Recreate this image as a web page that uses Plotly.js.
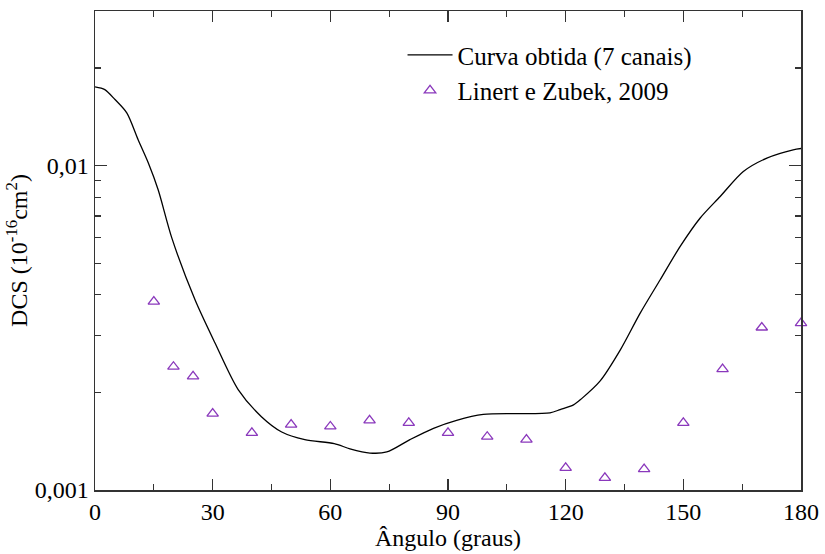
<!DOCTYPE html>
<html>
<head>
<meta charset="utf-8">
<script src="https://cdn.plot.ly/plotly-3.0.1.min.js"></script>
<style>
html,body{margin:0;padding:0;background:#fff;}
#chart{width:825px;height:554px;}
</style>
</head>
<body>
<div id="chart"></div>
<script>
// Curve (calculated, 7 channels)
const curveAngle = [0, 2.5, 5.1, 8.1, 11.0, 13.6, 16.1, 19.6, 25.5, 30.6, 36.5, 42.5, 47.6, 53.5, 61, 65, 70.1, 74.4, 80.3, 86.3, 92.2, 99, 107.5, 116, 118.6, 122, 124, 128.8, 133.9, 139, 144.1, 149.2, 154.3, 159.4, 165.3, 171.3, 178, 180];
const curveDCS   = [0.0175, 0.01717, 0.0160, 0.01455, 0.01202, 0.01019, 0.00843, 0.00598, 0.00386, 0.00284, 0.00204, 0.00168, 0.00151, 0.00143, 0.00139, 0.00134, 0.00130, 0.00131, 0.00143, 0.00155, 0.00164, 0.00171, 0.00172, 0.00173, 0.00177, 0.00183, 0.00191, 0.00217, 0.00270, 0.00351, 0.00445, 0.00564, 0.00690, 0.00804, 0.00960, 0.01056, 0.0112, 0.0113];

// Linert e Zubek, 2009 (experimental)
const expAngle = [15, 20, 25, 30, 40, 50, 60, 70, 80, 90, 100, 110, 120, 130, 140, 150, 160, 170, 180];
const expDCS   = [0.00381, 0.00240, 0.00224, 0.00172, 0.00150, 0.00159, 0.00157, 0.00164, 0.00161, 0.00150, 0.00146, 0.00143, 0.00117, 0.00109, 0.00116, 0.00161, 0.00236, 0.00317, 0.00327];

const xTicks = [0, 30, 60, 90, 120, 150, 180];
const yTickVals = [0.001, 0.01];
const yTickText = ['0,001', '0,01'];

const seriesNames = ['Curva obtida (7 canais)', 'Linert e Zubek, 2009'];

const serif = 'Liberation Serif, Times New Roman, serif';

const traces = [
  {
    x: curveAngle, y: curveDCS, type: 'scatter', mode: 'lines',
    name: seriesNames[0],
    line: {color: '#000000', width: 1.3, shape: 'spline', smoothing: 0.8}
  },
  {
    x: expAngle, y: expDCS, type: 'scatter', mode: 'markers', cliponaxis: false,
    name: seriesNames[1],
    marker: {symbol: 'triangle-up-open', size: 10, color: '#8a38bc', line: {width: 1.3, color: '#8a38bc'}}
  }
];

const layout = {
  width: 825, height: 554,
  margin: {l: 95, r: 24, t: 11, b: 64},
  paper_bgcolor: '#ffffff', plot_bgcolor: '#ffffff',
  font: {family: serif, size: 24, color: '#000'},
  showlegend: true,
  legend: {x: 0.4356, y: 0.956, xanchor: 'left', yanchor: 'top', bgcolor: 'rgba(0,0,0,0)',
           font: {family: serif, size: 25, color: '#000'}, tracegroupgap: 0, itemwidth: 45},
  xaxis: {
    range: [0, 180], tickvals: xTicks, ticks: 'inside', ticklen: 11, tickwidth: 1.3, tickcolor: '#333',
    showline: true, linecolor: '#333', linewidth: 1.5, mirror: 'allticks', showgrid: false, zeroline: false,
    tickfont: {family: serif, size: 24},
    minor: {dtick: 15, ticks: 'inside', ticklen: 6, tickwidth: 1.3, tickcolor: '#333', showgrid: false},
    title: {text: 'Ângulo (graus)', font: {family: serif, size: 24}, standoff: 1}
  },
  yaxis: {
    type: 'log', range: [-3, Math.log10(0.03)],
    tickvals: yTickVals, ticktext: yTickText,
    ticks: 'inside', ticklen: 12, tickwidth: 1.3, tickcolor: '#333',
    showline: true, linecolor: '#333', linewidth: 1.5, mirror: 'allticks', showgrid: false, zeroline: false,
    tickfont: {family: serif, size: 24},
    minor: {dtick: 'D1', ticks: 'inside', ticklen: 6, tickwidth: 1.3, tickcolor: '#333', showgrid: false},
    title: {text: 'DCS (10<sup>-16</sup>cm<sup>2</sup>)', font: {family: serif, size: 24}, standoff: 0}
  }
};

Plotly.newPlot('chart', traces, layout, {displayModeBar: false, staticPlot: true});
</script>
</body>
</html>
